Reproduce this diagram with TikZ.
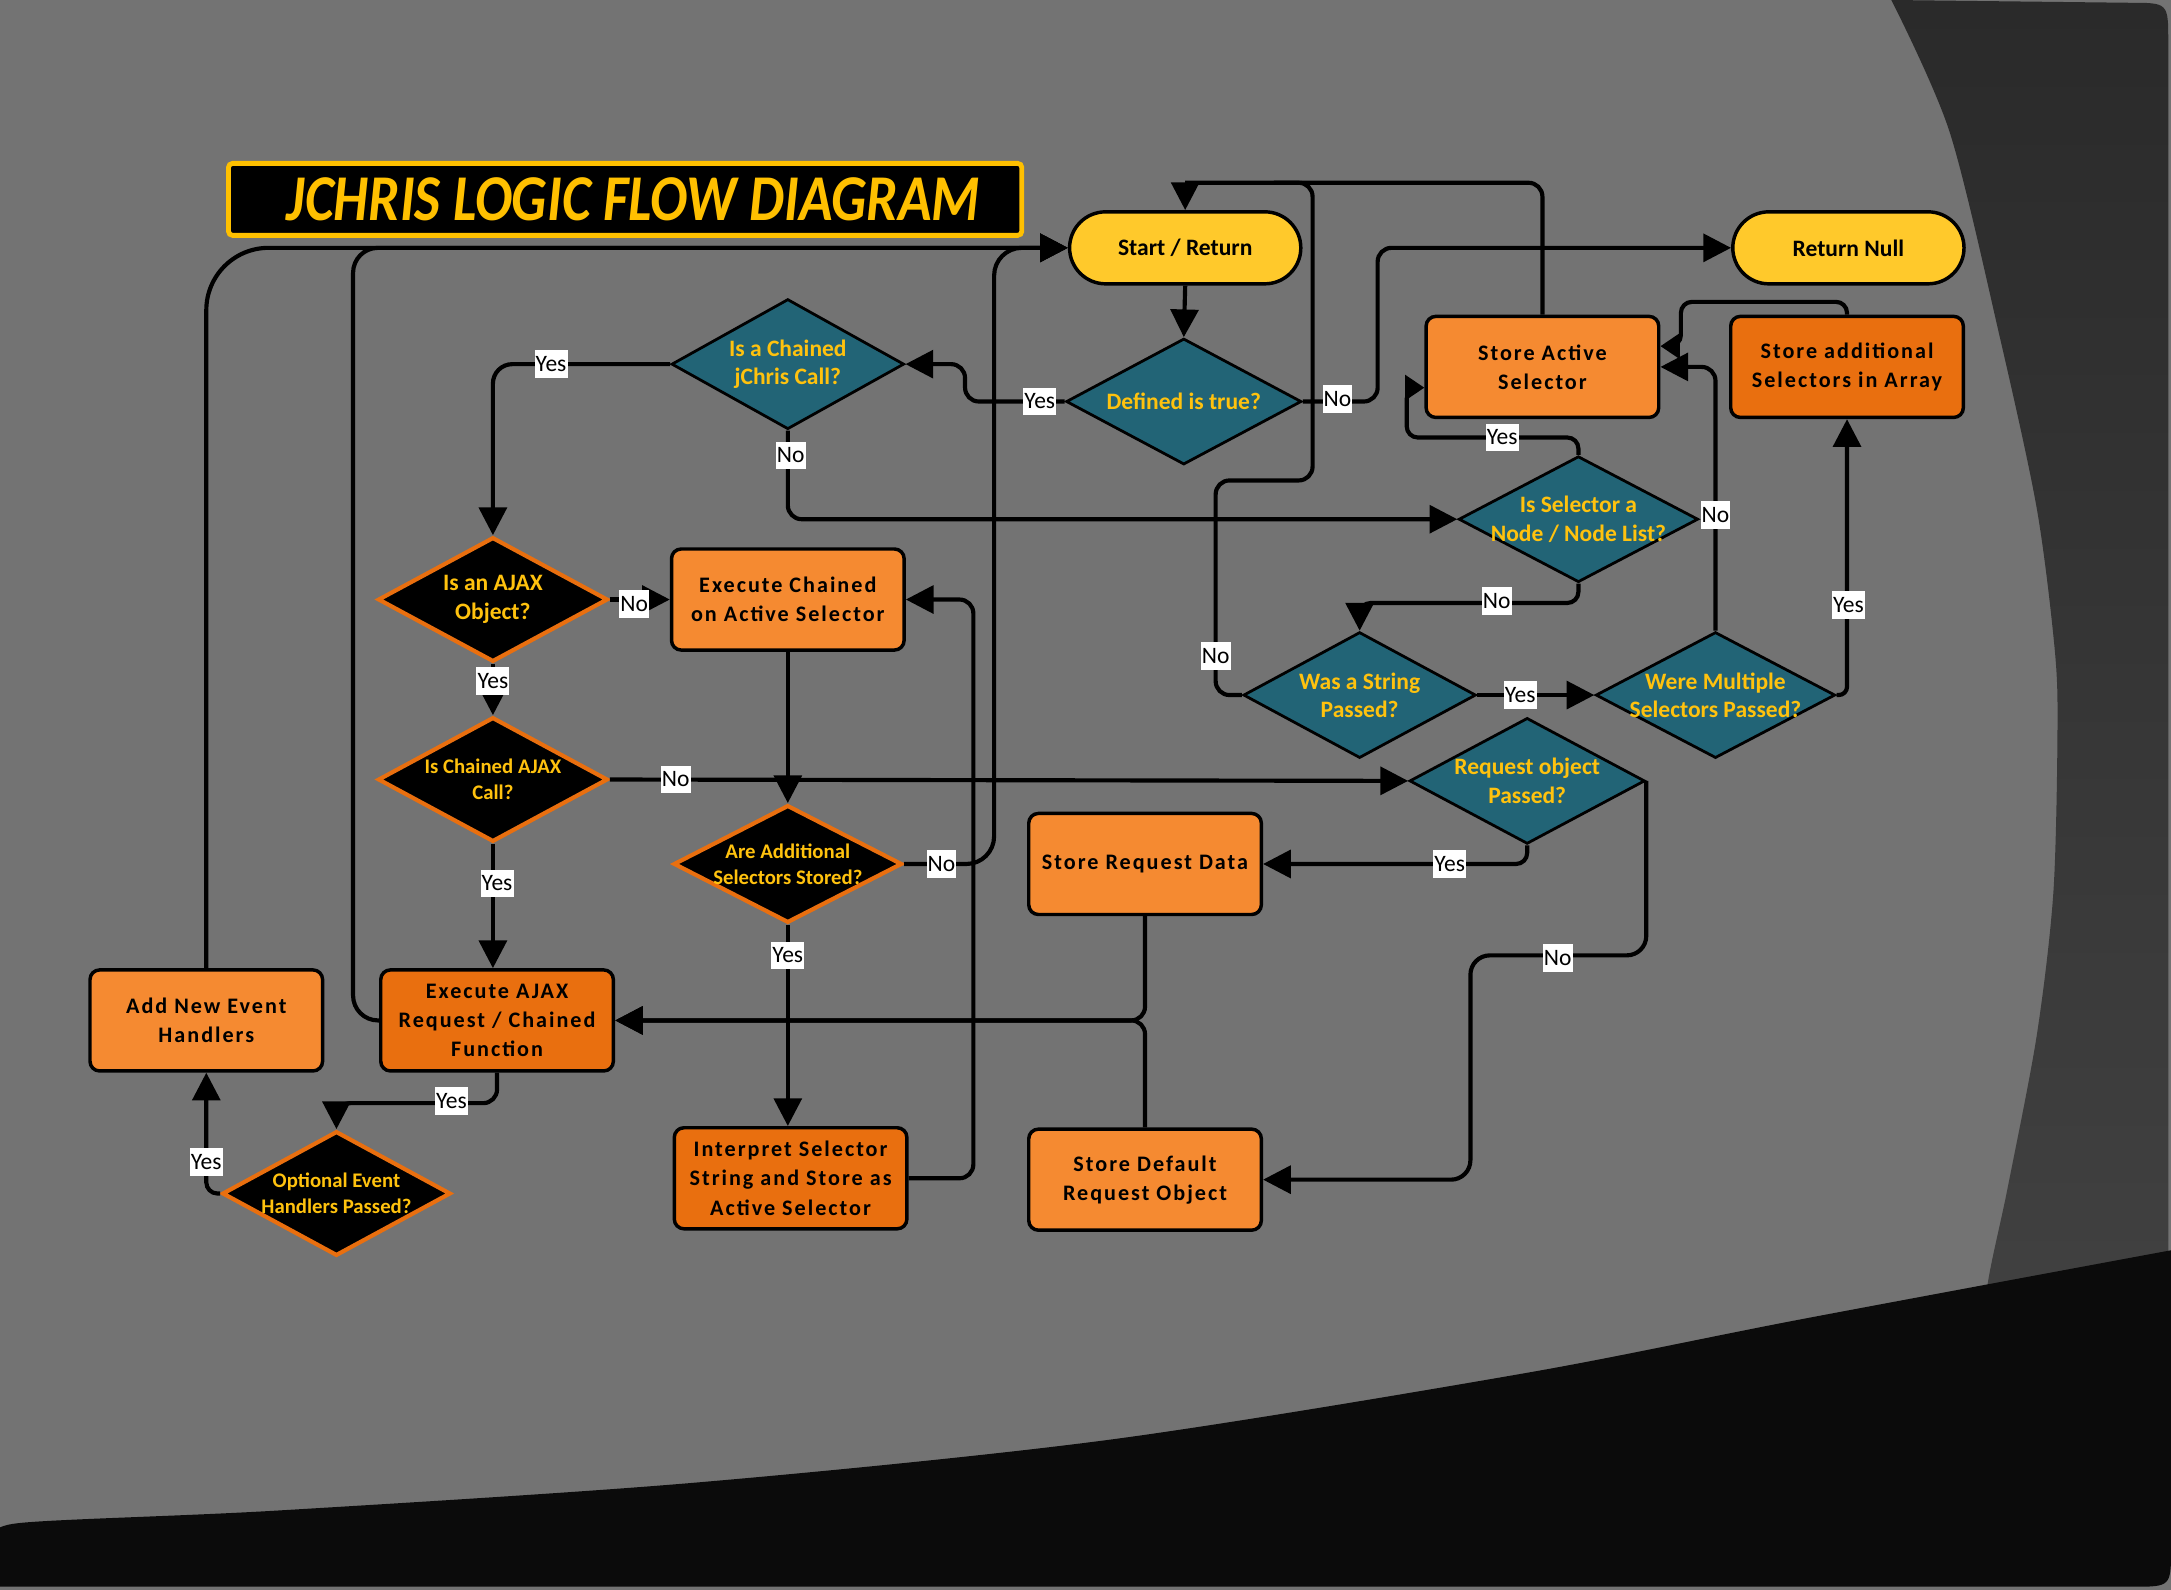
\documentclass[tikz,border=0pt]{standalone}
\usepackage{fontspec}
\usepackage{graphicx}
\setmainfont{Carlito}
\newfontfamily\boxfont[LetterSpace=9]{Carlito}
\usetikzlibrary{shapes.geometric,arrows.meta,calc}
\definecolor{bggray}{HTML}{737373}
\definecolor{darkA}{HTML}{2A2A2A}
\definecolor{darkB}{HTML}{424242}
\definecolor{blackreg}{HTML}{0B0B0B}
\definecolor{pillc}{HTML}{FFC92B}
\definecolor{orL}{HTML}{F58A31}
\definecolor{orD}{HTML}{E96F0F}
\definecolor{tealD}{HTML}{226476}
\definecolor{ytxt}{HTML}{FFC20E}
\definecolor{ttl}{HTML}{FFC000}
\tikzset{
 titlebox/.style={draw=ttl, line width=3.5pt, fill=black, minimum width=573pt, minimum height=52pt, rounded corners=3pt, text=ttl, inner sep=0pt, font=\fontsize{40}{40}\selectfont\bfseries\itshape},
 pillbox/.style={draw=black, line width=2.5pt, fill=pillc, rounded corners=26pt, minimum width=167pt, minimum height=52pt, inner sep=0pt, font=\fontsize{17}{20}\selectfont\bfseries},
 boxL/.style={draw=black, line width=2.5pt, fill=orL, rounded corners=7pt, minimum width=168pt, minimum height=73pt, inner sep=0pt, align=center, font=\boxfont\bfseries\fontsize{16}{21}\selectfont},
 boxD/.style={boxL, fill=orD},
 tdia/.style={diamond, draw=black, line width=2pt, fill=tealD, inner sep=0pt, minimum width=170pt, minimum height=91pt},
 bdia/.style={diamond, draw=orD, line width=3pt, fill=black, inner sep=0pt, minimum width=166pt, minimum height=90pt},
 dtext/.style={text=ytxt, align=center, inner sep=0pt, font=\bfseries\fontsize{17}{20.5}\selectfont},
 stext/.style={dtext, font=\bfseries\fontsize{15}{18.5}\selectfont},
 lbl/.style={fill=white, text=black, inner xsep=0.8pt, inner ysep=0pt, minimum height=20pt, font=\fontsize{17}{20}\selectfont},
 wire/.style={line width=3pt, rounded corners=10pt},
 conn/.style={wire, -{Triangle[length=20pt,width=20pt]}},
 sconn/.style={wire, -{Triangle[length=14pt,width=18pt]}}
}
\begin{document}
\begin{tikzpicture}[x=1pt,y=-1pt]
\useasboundingbox (0,0) rectangle (1568,1148);
% background
\fill[bggray] (0,0) rectangle (1568,1148);
\shade[top color=darkA, bottom color=darkB] plot[smooth] coordinates {(1366,0) (1408,95) (1444,242) (1471,367) (1484,469) (1486,528) (1483,645) (1471,748) (1450,858) (1435,931) (1430,1000)} -- (1566,1000) -- (1566,30) .. controls (1566,2) .. (1538,2) -- cycle;
\fill[blackreg] plot[smooth] coordinates {(0,1112) (14,1100) (200,1091) (500,1071) (800,1040) (1100,992) (1300,953) (1568,903)} -- (1568,1118) .. controls (1568,1146) .. (1540,1146) -- (0,1146) -- cycle;

% title
\node[titlebox] (title) at (451.5,144) {\hspace*{12pt}\scalebox{1}[1.18]{JCHRIS LOGIC FLOW DIAGRAM}};

% nodes
\node[pillbox] (start) at (856,179) {Start / Return};
\node[pillbox] (retnull) at (1335,179) {Return Null};
\node[tdia, label={[dtext]center:{Defined is true?}}] (def) at (855,290) {};
\node[tdia, minimum width=168pt, minimum height=94pt, label={[dtext]center:{Is a Chained\\jChris Call?}}] (chain) at (569,263) {};
\node[boxL] (storeact) at (1114,265) {Store Active\\Selector};
\node[boxD] (storeadd) at (1334,265) {Store additional\\Selectors in Array};
\node[tdia, minimum width=173pt, label={[dtext]center:{Is Selector a\\Node / Node List?}}] (isnode) at (1140,375) {};
\node[bdia, label={[dtext]center:{Is an AJAX\\Object?}}] (isajax) at (356,433) {};
\node[boxL] (execch) at (569,433) {Execute Chained\\on Active Selector};
\node[tdia, minimum width=168pt, label={[dtext]center:{Was a String\\Passed?}}] (isstr) at (982,502) {};
\node[tdia, minimum width=173pt, label={[dtext]center:{Were Multiple\\Selectors Passed?}}] (multi) at (1239,502) {};
\node[bdia, label={[stext]center:{Is Chained AJAX\\Call?}}] (chajax) at (356,563) {};
\node[tdia, label={[dtext]center:{Request object\\Passed?}}] (reqobj) at (1103,564) {};
\node[bdia, minimum width=165pt, minimum height=85pt, label={[stext]center:{Are Additional\\Selectors Stored?}}] (addsel) at (569,624) {};
\node[boxL] (storereq) at (827,624) {Store Request Data};
\node[boxL] (addev) at (149,737) {Add New Event\\Handlers};
\node[boxD] (execajax) at (359,737) {Execute AJAX\\Request / Chained\\Function};
\node[bdia, minimum width=165pt, label={[stext]center:{Optional Event\\Handlers Passed?}}] (optev) at (243,862) {};
\node[boxD] (interp) at (571,851) {Interpret Selector\\String and Store as\\Active Selector};
\node[boxL] (storedef) at (827,852) {Store Default\\Request Object};

% connectors
\draw[conn] (start.south) -- (def.north);
\draw[conn] (def.west) -- (697,290) |- (chain.east);
\draw[conn, rounded corners=14pt] (chain.west) -| (isajax.north);
\draw[conn] (chain.south) |- (isnode.west);
\draw[conn] (isajax.east) -- (execch.west);
\draw[conn] (isajax.south) -- (chajax.north);
\draw[conn] (chajax.east) -- (reqobj.west);
\draw[conn] (execch.south) -- (addsel.north);
\draw[conn] (chajax.south) -- (chajax.south |- execajax.north);
\draw[conn] (addsel.south) -- (addsel.south |- interp.north);
\draw[conn, rounded corners=20pt] (addsel.east) -- (718,624) |- (start.west);
\draw[conn] (interp.east) -- (703,851) |- (execch.east);
\draw[conn, rounded corners=18pt] (execajax.west) -- (255,737) |- (start.west);
\draw[conn] (execajax.south) -- ++(0,22) -| (optev.north);
\draw[conn, rounded corners=8pt] (optev.west) -| (addev.south);
\draw[conn, rounded corners=45pt] (addev.north) |- (start.west);
\draw[conn] (storereq.south) |- (execajax.east);
\draw[conn] (storedef.north) |- (execajax.east);
\draw[conn, rounded corners=8pt] (reqobj.south) |- (storereq.east);
\draw[conn, rounded corners=14pt] (reqobj.east) |- (1062,690) |- (storedef.east);
\draw[conn] (def.east) -- (995,290) |- (retnull.west);
\coordinate (jtop) at (856,132);
\draw[wire] (storeact.north) |- (jtop);
\draw[conn, sharp corners] (jtop) -- (start.north);
\draw[wire] (isstr.west) -| (878,347) -| (948,132) -- (920,132);
\draw[sconn, rounded corners=8pt] (isnode.north) |- (1016,316) |- ($(storeact.west)+(0,15)$);
\draw[conn] (multi.north) |- (storeact.east);
\draw[sconn, rounded corners=8pt] (storeadd.north) |- (1214,218) |- ($(storeact.east)+(0,-15)$);
\draw[conn, rounded corners=6pt] (multi.east) -| (storeadd.south);
\draw[conn] (isstr.east) -- (multi.west);
\draw[conn, rounded corners=8pt] (isnode.south) -- ++(0,14) -| (isstr.north);

% labels
\node[lbl] (l1) at (398,263) {Yes};
\node[lbl] (l2) at (571,329) {No};
\node[lbl] (l3) at (751,290) {Yes};
\node[lbl] (l4) at (966,288) {No};
\node[lbl] (l5) at (458,436) {No};
\node[lbl] (l6) at (356,492) {Yes};
\node[lbl] (l7) at (488,563) {No};
\node[lbl] (l8) at (359,638) {Yes};
\node[lbl] (l9) at (680,624) {No};
\node[lbl] (l10) at (569,690) {Yes};
\node[lbl] (l11) at (326,795) {Yes};
\node[lbl] (l12) at (149,839) {Yes};
\node[lbl] (l13) at (1047,624) {Yes};
\node[lbl] (l14) at (1125,692) {No};
\node[lbl] (l15) at (1085,316) {Yes};
\node[lbl] (l16) at (1081,434) {No};
\node[lbl] (l17) at (1239,372) {No};
\node[lbl] (l18) at (1098,502) {Yes};
\node[lbl] (l19) at (1335,437) {Yes};
\node[lbl] (l20) at (878,474) {No};
\end{tikzpicture}
\end{document}
